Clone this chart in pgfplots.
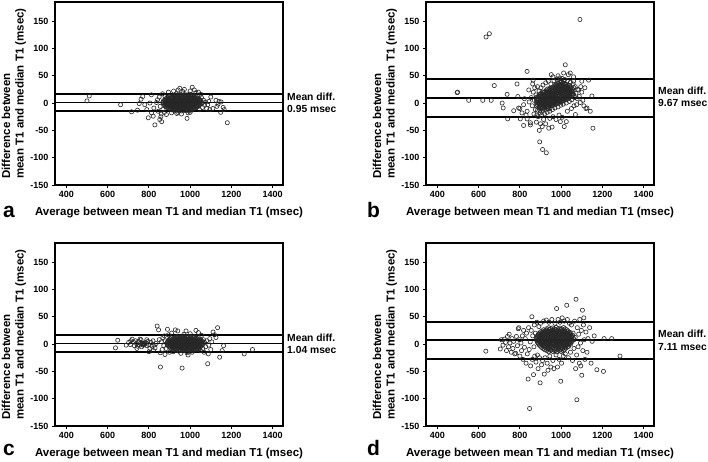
\documentclass[border=0pt]{standalone}
\usepackage{fontspec}
\setmainfont{Liberation Sans}
\usepackage{pgfplots}
\pgfplotsset{compat=1.18}
\pgfplotsset{
 bland/.style={
  scale only axis, width=228pt, height=183pt, anchor=south west,
  xmin=345, xmax=1450, ymin=-150, ymax=185,
  xtick={400,600,800,1000,1200,1400},
  ytick={-150,-100,-50,0,50,100,150},
  tick pos=left, tick align=outside,
  major tick length=3pt,
  axis line style={line width=1.6pt},
  every tick/.style={black, line width=0.9pt},
  tick label style={font=\fontsize{9}{10}\selectfont\bfseries},
  /pgf/number format/assume math mode=true,
  /pgf/number format/1000 sep={},
  xlabel={Average between mean T1 and median T1 (msec)},
  ylabel={Difference between\\mean T1 and median T1 (msec)},
  label style={font=\fontsize{11.5}{13.5}\selectfont\bfseries},
  xlabel style={at={(axis description cs:0.5,-0.168)}, anchor=base},
  ylabel style={at={(axis description cs:-0.18,0.5)}, anchor=center, align=left},
  clip=false,
 },
 pts/.style={only marks, mark=o, mark size=2.1pt, mark options={line width=0.6pt, draw=black!85}},
 ref/.style={line width=1.9pt, black, no marks},
}
\tikzset{
 md/.style={anchor=west, align=left, inner sep=0pt, xshift=4pt, font=\fontsize{10.3}{12.3}\selectfont\bfseries},
 lett/.style={anchor=base west, inner sep=0pt, font=\fontsize{21}{21}\selectfont\bfseries},
 frame/.style={line width=1.9pt, black},
}
\begin{document}
\begin{tikzpicture}
\useasboundingbox (0,0) rectangle (708pt,461pt);
% ---------------- panel a
\begin{axis}[bland, at={(55pt,276pt)}]
\addplot[pts] coordinates {
(932,17) (947,15.5) (963,16.8) (979,15) (996,16.3)
(906,12.5) (919,13.8) (933,12) (948,13.5) (961,12.4) (976,14) (991,12.6) (1005,13.2) (1021,12)
(889,10.4) (903,9.5) (916,10.8) (929,9.2) (942,10.5) (956,9.8) (969,10.9) (983,9.4) (996,10.6) (1009,9.7) (1023,10.2) (1036,9.3)
(880,7.5) (894,6.6) (906,7.8) (918,6.4) (931,7.6) (944,6.9) (957,7.9) (970,6.5) (982,7.4) (995,6.8) (1008,7.7) (1020,6.3) (1033,7.2) (1046,6.7)
(871,4.3) (884,3.6) (898,4.8) (911,3.4) (923,4.5) (936,3.8) (949,4.9) (961,3.5) (974,4.4) (987,3.7) (999,4.6) (1012,3.3) (1025,4.2) (1038,3.9) (1051,4.5)
(867,1.2) (879,0.6) (892,1.5) (905,0.4) (917,1.3) (930,0.8) (943,1.7) (956,0.5) (968,1.1) (981,0.7) (994,1.6) (1007,0.3) (1020,1.4) (1033,0.9) (1046,1.2) (1059,0.5)
(871,-2.3) (883,-1.6) (896,-2.5) (908,-1.8) (921,-2.2) (934,-1.5) (946,-2.6) (959,-1.9) (971,-2.4) (984,-1.7) (997,-2.1) (1009,-1.4) (1022,-2.5) (1035,-1.8) (1047,-2.2)
(879,-5.2) (891,-4.6) (904,-5.5) (917,-4.8) (929,-5.3) (942,-4.5) (955,-5.6) (967,-4.9) (980,-5.1) (993,-4.4) (1005,-5.4) (1018,-4.7) (1031,-5.2) (1043,-4.9)
(889,-8.3) (902,-7.6) (915,-8.5) (928,-7.9) (940,-8.2) (953,-7.5) (966,-8.6) (979,-7.8) (992,-8.1) (1005,-7.7) (1017,-8.4) (1030,-7.9)
(904,-11.2) (918,-10.6) (933,-11.5) (947,-10.8) (961,-11.3) (975,-10.5) (989,-11.4) (1003,-10.9) (1017,-11.1)
(924,-14.2) (941,-13.6) (959,-14.5) (977,-13.8) (994,-14.1)
(500,4) (511,13) (663,-3) (716,-16) (745,-13) (753,-1) (762,7) (770,12) (780,-3) (790,-12) (797,-27) (805,0) (812,15) (813,-18) (821,-24) (824,-9) (829,-40) (837,1) (845,-15) (853,-30) (858,-25) (862,-34) (842,6) (850,11) (855,-6) (860,-20) (866,17) (875,-17) (878,12) (885,-21) (895,20) (910,-18) (920,22) (935,-19) (942,24) (950,27) (958,-20) (965,21) (972,25) (985,-28) (990,-18) (1000,22) (1010,29) (1020,24) (1028,19) (1040,20) (1045,-12) (1055,10) (1060,-8) (1065,5) (1070,-4) (1075,2) (1080,-10) (1085,-3) (1090,3) (1095,-12) (1100,11) (1125,5) (1130,-6) (1135,-2) (1140,3) (1148,-17) (1150,2) (1160,-8) (1165,-12) (1180,-36) (1110,-10) (1052,16) (868,-12) (1000,-17) (940,-17)
};
\addplot[pts] coordinates {
(925,14.5) (940,14.2) (955,14.8) (970,14.3) (985,14.6) (1000,14.1) (1013,14.7)
(897,11.5) (910,11.8) (923,11.3) (937,11.7) (951,11.4) (964,11.9) (978,11.2) (992,11.6) (1006,11.3) (1019,11.8) (1030,11.5)
(886,8.5) (899,8.2) (911,8.8) (924,8.4) (937,8.7) (950,8.3) (963,8.6) (976,8.1) (989,8.8) (1002,8.3) (1015,8.6) (1027,8.2) (1040,8.5)
(877,5.5) (890,5.8) (903,5.3) (916,5.7) (929,5.4) (942,5.9) (955,5.2) (968,5.6) (980,5.3) (993,5.8) (1006,5.5) (1019,5.2) (1032,5.7) (1045,5.4)
(873,2.5) (886,2.2) (899,2.8) (911,2.4) (924,2.7) (937,2.3) (950,2.6) (962,2.1) (975,2.8) (988,2.3) (1001,2.6) (1014,2.2) (1027,2.7) (1040,2.4) (1053,2.6)
(873,-0.5) (886,-0.8) (899,-0.3) (911,-0.7) (924,-0.4) (937,-0.9) (950,-0.2) (962,-0.6) (975,-0.3) (988,-0.8) (1001,-0.5) (1014,-0.2) (1027,-0.7) (1040,-0.4) (1053,-0.6)
(877,-3.5) (890,-3.2) (903,-3.8) (915,-3.4) (928,-3.7) (940,-3.3) (953,-3.6) (965,-3.1) (978,-3.8) (991,-3.3) (1003,-3.6) (1016,-3.2) (1029,-3.7) (1041,-3.4)
(885,-6.5) (898,-6.8) (910,-6.3) (923,-6.7) (936,-6.4) (948,-6.9) (961,-6.2) (974,-6.6) (987,-6.3) (999,-6.8) (1012,-6.5) (1024,-6.2) (1037,-6.7)
(896,-9.5) (910,-9.2) (925,-9.8) (940,-9.4) (954,-9.7) (968,-9.3) (982,-9.6) (996,-9.1) (1010,-9.8) (1024,-9.3)
(912,-12.5) (930,-12.8) (950,-12.3) (968,-12.7) (986,-12.4) (1005,-12.9)
};
\addplot[ref] coordinates {(345,16.3) (1450,16.3)};
\addplot[ref] coordinates {(345,0.95) (1450,0.95)};
\addplot[ref] coordinates {(345,-14.4) (1450,-14.4)};
\draw[frame] (rel axis cs:0,0) rectangle (rel axis cs:1,1);
\node[md] at (axis cs:1450,0.95) {Mean diff.\\0.95 msec};
\end{axis}
% ---------------- panel b
\begin{axis}[bland, at={(426pt,276pt)}]
\addplot[pts] coordinates {
(880,-6) (882,-2) (879,2) (881,6) (878,10)
(892,-9) (894,-5) (891,-1) (893,3) (890,7) (892,11) (895,15)
(904,-10) (906,-6) (903,-2) (905,2) (902,6) (904,10) (907,14) (903,18)
(916,-9) (918,-5) (915,-1) (917,3) (914,7) (916,11) (919,15) (915,19)
(928,-8) (930,-4) (927,0) (929,4) (926,8) (928,12) (931,16) (927,20) (929,24)
(940,-7) (942,-3) (939,1) (941,5) (938,9) (940,13) (943,17) (939,21) (941,25)
(952,-5) (954,-1) (951,3) (953,7) (950,11) (952,15) (955,19) (951,23) (953,27)
(964,-4) (966,0) (963,4) (965,8) (962,12) (964,16) (967,20) (963,24) (965,28)
(976,-2) (978,2) (975,6) (977,10) (974,14) (976,18) (979,22) (975,26) (977,30) (976,34)
(988,0) (990,4) (987,8) (989,12) (986,16) (988,20) (991,24) (987,28) (989,32) (988,36)
(1000,2) (1002,6) (999,10) (1001,14) (998,18) (1000,22) (1003,26) (999,30) (1001,34) (1000,38)
(1012,4) (1014,8) (1011,12) (1013,16) (1010,20) (1012,24) (1015,28) (1011,32) (1013,36)
(1024,6) (1026,10) (1023,14) (1025,18) (1022,22) (1024,26) (1027,30) (1023,34)
(1036,8) (1038,12) (1035,16) (1037,20) (1034,24) (1036,28) (1039,32)
(1048,12) (1050,16) (1047,20) (1049,24) (1046,28)
(1060,16) (1058,22) (1061,28)
(886,-13) (898,-14) (910,-13) (922,-12) (934,-11) (946,-10)
(496,19) (498,20) (552,5) (620,5) (636,121) (652,127) (661,5) (676,32) (714,0) (719,-9) (738,16) (741,-29) (770,-14) (786,35) (794,-9) (802,-29) (818,-3) (818,-41) (835,-29) (835,-15) (835,58) (843,24) (851,-40) (851,-36) (864,42) (894,-50) (896,-71) (908,-43) (910,-85) (928,-91) (940,-46) (952,52) (956,-44) (996,-34) (1012,55) (1015,-43) (1020,70) (1025,-34) (1044,55) (1060,48) (1069,-21) (1085,24) (1091,153) (1093,1) (1125,-9) (1133,42) (1141,-15) (1149,13) (1154,-46)
(855,10) (860,-5) (865,20) (868,-20) (872,28) (875,-12) (878,15) (882,-22) (885,30) (888,-25) (893,22) (898,-18) (902,28) (906,-22) (912,33) (920,-20) (925,37) (932,-17) (938,40) (945,-15) (950,35) (958,-12) (965,41) (970,-9) (978,44) (985,-7) (992,46) (998,-4) (1005,45) (1010,-2) (1018,43) (1025,0) (1030,41) (1040,3) (1045,38) (1052,6) (1058,35) (1065,10) (1068,30) (1072,18) (1075,-3) (1080,25) (1078,8) (1088,12) (1095,30) (1100,20) (1105,5) (1110,-5) (1115,28) (870,5) (862,35) (845,2) (830,-22) (822,8) (810,-18) (800,-10) (790,12) (880,-35) (900,-38) (915,-30) (925,-38) (945,-28) (960,-25) (975,-30) (990,-22) (1005,-26) (1030,-15) (1050,-10) (1035,52) (985,50) (960,48) (1000,40) (1060,40) (1100,40) (1120,-10) (1062,-5)
};
\addplot[pts] coordinates {
(886,-4) (887,0) (885,4) (886,8) (888,12)
(898,-8) (899,-4) (897,0) (898,4) (900,8) (898,12) (899,16)
(910,-8) (911,-4) (909,0) (910,4) (912,8) (910,12) (911,16) (909,20)
(922,-7) (923,-3) (921,1) (922,5) (924,9) (922,13) (923,17) (921,21)
(934,-6) (935,-2) (933,2) (934,6) (936,10) (934,14) (935,18) (933,22) (934,26)
(946,-5) (947,-1) (945,3) (946,7) (948,11) (946,15) (947,19) (945,23) (946,27)
(958,-3) (959,1) (957,5) (958,9) (960,13) (958,17) (959,21) (957,25) (958,29)
(970,-2) (971,2) (969,6) (970,10) (972,14) (970,18) (971,22) (969,26) (970,30) (971,33)
(982,0) (983,4) (981,8) (982,12) (984,16) (982,20) (983,24) (981,28) (982,32) (983,36)
(994,2) (995,6) (993,10) (994,14) (996,18) (994,22) (995,26) (993,30) (994,34) (995,38)
(1006,4) (1007,8) (1005,12) (1006,16) (1008,20) (1006,24) (1007,28) (1005,32) (1006,36)
(1018,6) (1019,10) (1017,14) (1018,18) (1020,22) (1018,26) (1019,30) (1017,34)
(1030,8) (1031,12) (1029,16) (1030,20) (1032,24) (1030,28) (1031,32)
(1042,12) (1043,16) (1041,20) (1042,24) (1044,28) (1042,32)
(1054,14) (1055,18) (1053,22) (1054,26)
};
\addplot[ref] coordinates {(345,44) (1450,44)};
\addplot[ref] coordinates {(345,9.67) (1450,9.67)};
\addplot[ref] coordinates {(345,-24.7) (1450,-24.7)};
\draw[frame] (rel axis cs:0,0) rectangle (rel axis cs:1,1);
\node[md] at (axis cs:1450,12) {Mean diff.\\9.67 msec};
\end{axis}
% ---------------- panel c
\begin{axis}[bland, at={(55pt,35pt)}]
\addplot[pts] coordinates {
(935,14) (950,13.5) (968,14.6) (985,13.2) (1002,14.3) (1020,13.6)
(910,11.2) (923,10.6) (937,11.5) (950,10.8) (964,11.3) (978,10.5) (991,11.4) (1005,10.9) (1018,11.1) (1032,10.4)
(898,8.3) (911,7.6) (924,8.5) (937,7.9) (950,8.2) (963,7.5) (976,8.6) (989,7.8) (1002,8.1) (1015,7.7) (1028,8.4) (1041,7.9) (1052,8.2)
(892,5.2) (905,4.6) (918,5.5) (931,4.8) (944,5.3) (957,4.5) (970,5.6) (983,4.9) (996,5.1) (1009,4.4) (1022,5.4) (1035,4.7) (1048,5.2) (1060,4.9)
(888,2.3) (901,1.6) (914,2.5) (927,1.8) (940,2.2) (953,1.5) (966,2.6) (979,1.9) (992,2.4) (1005,1.7) (1018,2.1) (1031,1.4) (1044,2.5) (1057,1.8)
(890,-1.2) (903,-0.6) (916,-1.5) (929,-0.8) (942,-1.3) (955,-0.5) (968,-1.6) (981,-0.9) (994,-1.1) (1007,-0.4) (1020,-1.4) (1033,-0.7) (1046,-1.2) (1059,-0.9)
(896,-4.3) (909,-3.6) (922,-4.5) (935,-3.8) (948,-4.2) (961,-3.5) (974,-4.6) (987,-3.9) (1000,-4.1) (1013,-3.7) (1026,-4.4) (1039,-3.9) (1052,-4.2)
(905,-7.2) (918,-6.6) (931,-7.5) (944,-6.8) (957,-7.3) (970,-6.5) (983,-7.4) (996,-6.9) (1009,-7.1) (1022,-6.7) (1035,-7.4) (1047,-6.9)
(920,-10.2) (935,-9.6) (950,-10.5) (965,-9.8) (980,-10.3) (995,-9.5) (1010,-10.4) (1025,-9.9) (1038,-10.1)
(945,-13) (965,-12.5) (985,-13.4) (1005,-12.7)
(770,0) (774,1) (778,-1) (772,-2) (777,2) (780,0) (768,1) (775,-1)
(638,-7) (649,7) (690,-2) (702,3) (710,-1) (719,9) (725,4) (730,-3) (735,6) (740,1) (745,-4) (750,5) (755,-2) (760,2) (762,8) (765,-5) (785,3) (790,-3) (795,5) (800,-1) (805,-8) (800,-14) (810,3) (815,-4) (820,6) (825,-2) (830,-7) (835,1) (840,33) (847,26) (850,8) (855,-16) (856,-42) (860,4) (865,-10) (868,12) (872,-3) (875,15) (878,-19) (880,6) (884,-8) (890,27) (895,17) (900,-15) (910,20) (918,-14) (928,26) (940,24) (955,-17) (961,-44) (970,18) (980,24) (985,-16) (990,-20) (1000,19) (1010,-15) (1028,25) (1040,21) (1050,-12) (1055,16) (1062,-8) (1065,8) (1068,-15) (1070,3) (1075,-5) (1080,6) (1085,-36) (1088,-18) (1090,-2) (1095,10) (1100,-10) (1105,4) (1111,22) (1118,17) (1125,12) (1133,30) (1143,-24) (1155,-12) (1162,-3) (1262,-18) (1302,-10) (712,6) (742,-8) (757,9) (790,8) (822,-12)
};
\addplot[pts] coordinates {
(928,12.5) (943,12.2) (958,12.8) (972,12.4) (986,12.7) (1000,12.3) (1014,12.6) (1028,12.1)
(904,9.5) (917,9.8) (930,9.3) (944,9.7) (957,9.4) (970,9.9) (983,9.2) (996,9.6) (1009,9.3) (1022,9.8) (1035,9.5) (1046,9.2)
(895,6.5) (908,6.2) (921,6.8) (934,6.4) (947,6.7) (960,6.3) (973,6.6) (986,6.1) (999,6.8) (1012,6.3) (1025,6.6) (1038,6.2) (1050,6.7)
(890,3.5) (903,3.8) (916,3.3) (929,3.7) (942,3.4) (955,3.9) (968,3.2) (981,3.6) (994,3.3) (1007,3.8) (1020,3.5) (1033,3.2) (1046,3.7) (1058,3.4)
(889,0.5) (902,0.2) (915,0.8) (928,0.4) (941,0.7) (954,0.3) (967,0.6) (980,0.1) (993,0.8) (1006,0.3) (1019,0.6) (1032,0.2) (1045,0.7) (1058,0.4)
(893,-2.5) (906,-2.8) (919,-2.3) (932,-2.7) (945,-2.4) (958,-2.9) (971,-2.2) (984,-2.6) (997,-2.3) (1010,-2.8) (1023,-2.5) (1036,-2.2) (1049,-2.7)
(900,-5.5) (913,-5.2) (926,-5.8) (939,-5.4) (952,-5.7) (965,-5.3) (978,-5.6) (991,-5.1) (1004,-5.8) (1017,-5.3) (1030,-5.6) (1042,-5.2)
(912,-8.5) (927,-8.8) (942,-8.3) (957,-8.7) (972,-8.4) (987,-8.9) (1002,-8.2) (1017,-8.6) (1031,-8.3) (1043,-8.8)
(932,-11.5) (955,-11.8) (975,-11.3) (995,-11.7) (1015,-11.4)
};
\addplot[ref] coordinates {(345,15.9) (1450,15.9)};
\addplot[ref] coordinates {(345,1.04) (1450,1.04)};
\addplot[ref] coordinates {(345,-13.8) (1450,-13.8)};
\draw[frame] (rel axis cs:0,0) rectangle (rel axis cs:1,1);
\node[md] at (axis cs:1450,1.04) {Mean diff.\\1.04 msec};
\end{axis}
% ---------------- panel d
\begin{axis}[bland, at={(426pt,35pt)}]
\addplot[pts] coordinates {
(940,30) (958,29.5) (976,30.6) (994,29.3) (1012,30.2)
(915,26.2) (929,25.6) (943,26.5) (957,25.8) (971,26.3) (985,25.5) (999,26.4) (1013,25.9) (1027,26.1)
(900,22.3) (913,21.6) (926,22.5) (939,21.8) (952,22.2) (965,21.5) (978,22.6) (991,21.9) (1004,22.4) (1017,21.7) (1030,22.1) (1043,21.4)
(890,18.2) (903,17.6) (916,18.5) (929,17.8) (942,18.3) (955,17.5) (968,18.6) (981,17.9) (994,18.1) (1007,17.4) (1020,18.4) (1033,17.7) (1046,18.2)
(884,14.3) (897,13.6) (910,14.5) (923,13.8) (936,14.2) (949,13.5) (962,14.6) (975,13.9) (988,14.4) (1001,13.7) (1014,14.1) (1027,13.4) (1040,14.5) (1053,13.8)
(880,10.2) (893,9.6) (906,10.5) (919,9.8) (932,10.3) (945,9.5) (958,10.6) (971,9.9) (984,10.1) (997,9.4) (1010,10.4) (1023,9.7) (1036,10.2) (1049,9.9) (1060,10.3)
(882,6.3) (895,5.6) (908,6.5) (921,5.8) (934,6.2) (947,5.5) (960,6.6) (973,5.9) (986,6.4) (999,5.7) (1012,6.1) (1025,5.4) (1038,6.5) (1051,5.8)
(887,2.2) (900,1.6) (913,2.5) (926,1.8) (939,2.3) (952,1.5) (965,2.6) (978,1.9) (991,2.1) (1004,1.4) (1017,2.4) (1030,1.7) (1043,2.2)
(895,-2.3) (908,-1.6) (921,-2.5) (934,-1.8) (947,-2.2) (960,-1.5) (973,-2.6) (986,-1.9) (999,-2.4) (1012,-1.7) (1025,-2.1) (1038,-1.4)
(905,-6.2) (919,-5.6) (933,-6.5) (947,-5.8) (961,-6.3) (975,-5.5) (989,-6.4) (1003,-5.9) (1017,-6.1) (1030,-5.7)
(920,-10.3) (936,-9.6) (952,-10.5) (968,-9.8) (984,-10.2) (1000,-9.5) (1016,-10.4)
(940,-14) (960,-13.5) (980,-14.4) (1000,-13.7)
(635,-13) (705,-9) (710,8) (718,-2) (724,9) (730,3) (735,-12) (740,14) (745,-5) (748,18) (752,2) (758,-15) (762,10) (766,-8) (770,5) (775,-18) (780,-17) (783,14) (788,-3) (792,28) (795,30) (798,8) (800,-22) (805,2) (808,-12) (812,15) (815,-28) (818,25) (822,-6) (826,10) (830,-35) (832,20) (836,-18) (840,-64) (842,30) (845,-10) (847,-118) (850,4) (852,-40) (855,25) (858,50) (860,-28) (862,15) (866,-56) (868,-5) (870,35) (872,-22) (875,20) (878,-33) (882,40) (885,-20) (888,-45) (892,32) (895,-25) (898,-71) (900,38) (905,-38) (910,-30) (915,42) (918,-55) (922,-25) (928,44) (932,-35) (936,-48) (940,40) (945,-22) (950,-42) (955,45) (960,-30) (965,-45) (970,38) (975,-20) (978,65) (982,-42) (985,45) (990,-28) (995,40) (998,-68) (1002,-35) (1005,48) (1010,-22) (1015,42) (1020,-18) (1027,71) (1030,45) (1035,-25) (1040,38) (1045,-15) (1050,35) (1055,-30) (1058,20) (1062,-8) (1065,42) (1068,12) (1072,82) (1075,-20) (1076,-102) (1078,30) (1082,-5) (1085,18) (1088,-35) (1090,45) (1094,2) (1098,25) (1100,-57) (1103,62) (1105,-12) (1108,35) (1112,8) (1115,-28) (1120,22) (1125,-15) (1130,10) (1138,30) (1145,-35) (1150,5) (1160,15) (1173,-47) (1205,-50) (1208,10) (1245,10) (1285,-22) (1110,48) (1095,-40) (1070,-45)
};
\addplot[pts] coordinates {
(930,28) (949,28.3) (967,27.8) (985,28.2) (1003,27.7) (1020,28.1)
(907,24) (921,24.3) (935,23.8) (949,24.2) (963,23.7) (977,24.1) (991,23.6) (1005,24.4) (1019,23.9) (1033,24.2)
(895,20) (908,20.3) (921,19.8) (934,20.2) (947,19.7) (960,20.1) (973,19.6) (986,20.4) (999,19.9) (1012,20.2) (1025,19.7) (1038,20.1)
(887,16) (900,16.3) (913,15.8) (926,16.2) (939,15.7) (952,16.1) (965,15.6) (978,16.4) (991,15.9) (1004,16.2) (1017,15.7) (1030,16.1) (1043,15.8) (1055,16.2)
(882,12) (895,12.3) (908,11.8) (921,12.2) (934,11.7) (947,12.1) (960,11.6) (973,12.4) (986,11.9) (999,12.2) (1012,11.7) (1025,12.1) (1038,11.8) (1051,12.2)
(881,8) (894,8.3) (907,7.8) (920,8.2) (933,7.7) (946,8.1) (959,7.6) (972,8.4) (985,7.9) (998,8.2) (1011,7.7) (1024,8.1) (1037,7.8) (1050,8.2) (1062,7.9)
(884,4) (897,4.3) (910,3.8) (923,4.2) (936,3.7) (949,4.1) (962,3.6) (975,4.4) (988,3.9) (1001,4.2) (1014,3.7) (1027,4.1) (1040,3.8) (1052,4.2)
(891,0) (904,0.3) (917,-0.2) (930,0.2) (943,-0.3) (956,0.1) (969,-0.4) (982,0.4) (995,-0.1) (1008,0.2) (1021,-0.3) (1034,0.1) (1046,-0.2)
(900,-4) (913,-3.7) (926,-4.2) (940,-3.8) (954,-4.3) (968,-3.9) (982,-4.4) (996,-3.6) (1010,-4.1) (1024,-3.8) (1036,-4.2)
(912,-8) (927,-7.7) (943,-8.2) (959,-7.8) (975,-8.3) (991,-7.9) (1007,-8.4) (1022,-7.6)
(930,-12) (950,-11.7) (970,-12.2) (990,-11.8) (1010,-12.3)
};
\addplot[ref] coordinates {(345,41) (1450,41)};
\addplot[ref] coordinates {(345,7.11) (1450,7.11)};
\addplot[ref] coordinates {(345,-26.7) (1450,-26.7)};
\draw[frame] (rel axis cs:0,0) rectangle (rel axis cs:1,1);
\node[md] at (axis cs:1450,7.11) {Mean diff.\\7.11 msec};
\end{axis}
\node[lett] at (3pt,244pt) {a};
\node[lett] at (367pt,244pt) {b};
\node[lett] at (3pt,6pt) {c};
\node[lett] at (367pt,6pt) {d};
\end{tikzpicture}
\end{document}
